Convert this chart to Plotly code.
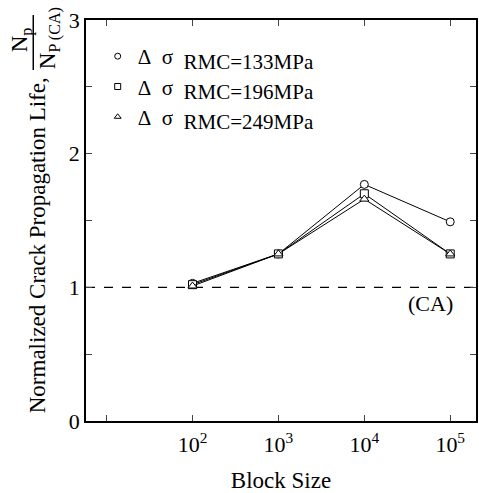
import plotly.graph_objects as go

block_size = [1e2, 1e3, 1e4, 1e5]
s133 = [1.03, 1.25, 1.77, 1.49]
s196 = [1.02, 1.25, 1.70, 1.25]
s249 = [1.01, 1.25, 1.66, 1.25]
stress = ["133", "196", "249"]
symbols = ["circle", "square", "triangle-up"]
series = [s133, s196, s249]

x_tickvals = [10, 100, 1000, 10000, 100000]
x_ticktext = ["", "10<sup>2</sup>", "10<sup>3</sup>", "10<sup>4</sup>", "10<sup>5</sup>"]
y_tickvals = [0, 0.5, 1, 1.5, 2, 2.5, 3]
y_ticktext = ["0", "", "1", "", "2", "", "3"]

FONT = "Liberation Serif"
fig = go.Figure()

# CA reference line
fig.add_trace(go.Scatter(x=[10**0.76, 10**5.3], y=[1, 1], mode="lines",
                         line=dict(color="black", width=1.2, dash="dash"), showlegend=False))

for s, sym, ys in zip(stress, symbols, series):
    name = ("Δ\u2002σ\u2002<sub><span style='font-size:21px'>RMC=" + s + "MPa</span></sub>")
    fig.add_trace(go.Scatter(x=block_size, y=ys, mode="lines+markers",
                             line=dict(color="black", width=1),
                             marker=dict(symbol=sym, size=8, color="white",
                                         line=dict(color="black", width=1)),
                             showlegend=False))
    fig.add_trace(go.Scatter(x=[None], y=[None], mode="markers", name=name,
                             marker=dict(symbol=sym + "-open", size=6, color="black",
                                         line=dict(color="black", width=1))))

fig.add_annotation(x=4.77, y=0.88, xref="x", yref="y", text="(CA)", showarrow=False,
                   font=dict(family=FONT, size=22, color="black"))

# y-axis title
fig.add_annotation(x=(37 - 86) / 392, y=(421 - 245) / 401, xref="paper", yref="paper",
                   text="Normalized Crack Propagation Life,", textangle=-90, showarrow=False,
                   font=dict(family=FONT, size=23, color="black"), xanchor="center", yanchor="middle")
fig.add_annotation(x=(21 - 86) / 392, y=(421 - 40) / 401, xref="paper", yref="paper",
                   text="N<sub>p</sub>", textangle=-90, showarrow=False,
                   font=dict(family=FONT, size=23, color="black"), xanchor="center", yanchor="middle")
fig.add_annotation(x=(50 - 86) / 392, y=(421 - 38) / 401, xref="paper", yref="paper",
                   text="N<sub>P (CA)</sub>", textangle=-90, showarrow=False,
                   font=dict(family=FONT, size=23, color="black"), xanchor="center", yanchor="middle")
fig.add_shape(type="line", xref="paper", yref="paper",
              x0=(33 - 86) / 392, x1=(33 - 86) / 392, y0=(421 - 15) / 401, y1=(421 - 70) / 401,
              line=dict(color="black", width=1.5))

fig.update_layout(
    width=479, height=493,
    margin=dict(l=86, r=1, t=20, b=72),
    paper_bgcolor="white", plot_bgcolor="white",
    font=dict(family=FONT, size=21, color="black"),
    legend=dict(x=0.03, y=0.96, xanchor="left", yanchor="top", bgcolor="rgba(0,0,0,0)",
                font=dict(family=FONT, size=21, color="black"),
                tracegroupgap=0, itemwidth=30),
    xaxis=dict(type="log", range=[0.76, 5.3], tickvals=x_tickvals, ticktext=x_ticktext,
               ticks="inside", ticklen=6, showgrid=False, zeroline=False,
               showline=True, linecolor="black", linewidth=1.5, mirror="ticks",
               ticklabelstandoff=3,
               title=dict(text="Block Size", font=dict(family=FONT, size=23), standoff=16),
               tickfont=dict(family=FONT, size=22)),
    yaxis=dict(range=[0, 3], tickvals=y_tickvals, ticktext=y_ticktext,
               ticks="inside", ticklen=6, showgrid=False, zeroline=False,
               showline=True, linecolor="black", linewidth=1.5, mirror="ticks",
               tickfont=dict(family=FONT, size=22)),
)

fig.write_html("out.html")
